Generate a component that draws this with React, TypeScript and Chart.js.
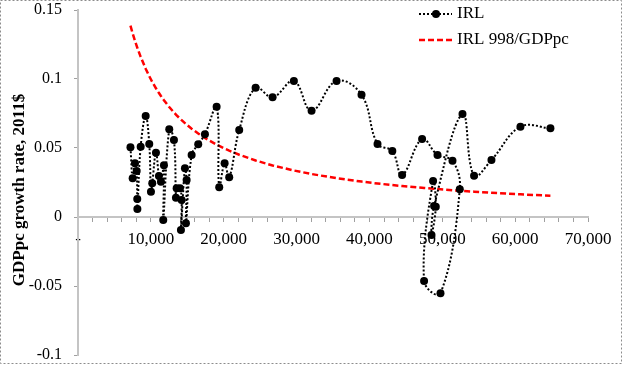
import { useEffect, useRef } from "react";
import { Chart, registerables } from "chart.js";

Chart.register(...registerables);

// GDP per capita (2011$) of Ireland, in year order
const gdppc = [
  7200, 7503, 7819, 8052, 8134, 8150, 8601, 9287, 9781, 10014,
  10192, 10700, 11111, 11385, 11797, 11701, 12524, 13169, 13443, 13539,
  13992, 14225, 14129, 14678, 14911, 14815, 15597, 16502, 17421, 19026,
  19383, 20123, 20754, 22126, 24376, 26708, 29630, 32058, 35487, 38916,
  41111, 43141, 44486, 47229, 49342, 51399, 52401, 49753, 47503, 48738,
  49108, 48519, 48875, 52771, 54362, 56749, 60727, 64842,
];
// GDPpc growth rate
const growth = [
  0.0505, 0.028, 0.0389, 0.0333, 0.013, 0.0058, 0.0509, 0.0732, 0.0529, 0.0183,
  0.0244, 0.0466, 0.0297, 0.0256, 0.0375, -0.0022, 0.0636, 0.0558, 0.014, 0.0208,
  0.0208, 0.0123, -0.0094, 0.0353, 0.0268, -0.0046, 0.0449, 0.0527, 0.0599, 0.0799,
  0.0215, 0.0389, 0.0288, 0.063, 0.0937, 0.0867, 0.0986, 0.077, 0.0986, 0.0886,
  0.0529, 0.0478, 0.0304, 0.0565, 0.0449, 0.0408, 0.0201, -0.0553, -0.0464, 0.0261,
  0.0075, -0.013, 0.008, 0.0746, 0.0299, 0.0413, 0.0654, 0.0643,
];
const K = 998;
const seriesLabels = ["IRL", "IRL 998/GDPpc"];
const yTitle = "GDPpc growth rate, 2011$";
const xMin = 0, xMax = 70000, xMajor = 10000, xMinor = 2000;
const yMin = -0.1, yMax = 0.15, yStep = 0.05;

const FONT = "'Liberation Serif', 'Times New Roman', serif";

export default function App() {
  const ref = useRef<HTMLCanvasElement>(null);
  useEffect(() => {
    const canvas = ref.current!;
    const irl = gdppc.map((x, i) => ({ x, y: growth[i] }));
    const sorted = [...gdppc].sort((a, b) => a - b);
    const ratio = sorted.map((x) => ({ x, y: K / x }));

    const extras = {
      id: "extras",
      afterDraw(chart: any) {
        const ctx = chart.ctx as CanvasRenderingContext2D;
        ctx.save();
        ctx.setLineDash([2, 2]);
        ctx.strokeStyle = "#8c8c8c";
        ctx.lineWidth = 1;
        ctx.strokeRect(0.5, 0.5, 621, 363);
        ctx.setLineDash([]);
        ctx.fillStyle = "#000";
        ctx.font = `bold 17px ${FONT}`;
        ctx.textAlign = "center";
        ctx.textBaseline = "middle";
        ctx.translate(20, 190);
        ctx.rotate(-Math.PI / 2);
        ctx.fillText(yTitle, 0, 0);
        ctx.restore();

        ctx.save();
        ctx.font = `17px ${FONT}`;
        ctx.textAlign = "left";
        ctx.textBaseline = "middle";
        ctx.fillStyle = "#000";
        const y1 = 14, y2 = 40;
        ctx.strokeStyle = "#000";
        ctx.lineWidth = 2;
        ctx.setLineDash([2, 2]);
        ctx.beginPath();
        ctx.moveTo(419, y1);
        ctx.lineTo(452, y1);
        ctx.stroke();
        ctx.setLineDash([]);
        ctx.beginPath();
        ctx.arc(436, y1, 4, 0, Math.PI * 2);
        ctx.fill();
        ctx.fillText(seriesLabels[0], 457, y1);
        ctx.strokeStyle = "#ff0000";
        ctx.lineWidth = 2.5;
        ctx.setLineDash([6, 3]);
        ctx.beginPath();
        ctx.moveTo(419, y2);
        ctx.lineTo(455, y2);
        ctx.stroke();
        ctx.setLineDash([]);
        ctx.fillText(seriesLabels[1], 457, y2);
        ctx.restore();
      },
    };

    const chart = new Chart(canvas, {
      type: "line",
      data: {
        datasets: [
          {
            label: seriesLabels[0],
            data: irl,
            borderColor: "#000",
            borderWidth: 2,
            borderDash: [2, 2],
            tension: 0.4,
            pointRadius: 4,
            pointBackgroundColor: "#000",
            pointBorderColor: "#000",
            pointBorderWidth: 0,
            fill: false,
            order: 0,
          },
          {
            label: seriesLabels[1],
            data: ratio,
            borderColor: "#ff0000",
            borderWidth: 2.5,
            borderDash: [6, 3],
            tension: 0,
            pointRadius: 0,
            fill: false,
            order: 1,
          },
        ],
      },
      options: {
        responsive: false,
        animation: false,
        layout: { padding: { left: 0, right: 37, top: 10, bottom: 10 } },
        plugins: { legend: { display: false }, tooltip: { enabled: false } },
        scales: {
          x: {
            type: "linear",
            min: xMin,
            max: xMax,
            position: { y: 0 } as any,
            afterFit: (s: any) => {
              s.height = 0;
              s.paddingTop = 0;
              s.paddingBottom = 0;
            },
            border: { color: "#c4c4c4", width: 2 },
            grid: {
              drawOnChartArea: false,
              drawTicks: true,
              tickLength: 4,
              tickColor: "#a0a0a0",
            },
            ticks: {
              stepSize: xMinor,
              autoSkip: false,
              maxRotation: 0,
              padding: 8,
              color: "#000",
              font: { family: FONT, size: 17 },
              callback: (v: any) => {
                const n = Number(v);
                if (n % xMajor !== 0) return "";
                return n === 0 ? "-" : n.toLocaleString("en-US");
              },
            },
          },
          y: {
            type: "linear",
            min: yMin,
            max: yMax,
            position: "left",
            afterFit: (s: any) => {
              s.width = 78;
              s.paddingTop = 0;
              s.paddingBottom = 0;
            },
            border: { color: "#c4c4c4", width: 2 },
            grid: {
              drawOnChartArea: false,
              drawTicks: true,
              tickLength: 4,
              tickColor: "#a0a0a0",
            },
            ticks: {
              stepSize: yStep,
              padding: 12,
              color: "#000",
              font: { family: FONT, size: 16 },
              callback: (v: any) => String(Math.round(Number(v) * 100) / 100),
            },
          },
        },
      },
      plugins: [extras],
    });
    return () => chart.destroy();
  }, []);

  return (
    <div style={{ position: "absolute", left: 0, top: 0, width: 625, height: 365, background: "#fff" }}>
      <canvas ref={ref} width={625} height={365} style={{ display: "block" }} />
    </div>
  );
}
